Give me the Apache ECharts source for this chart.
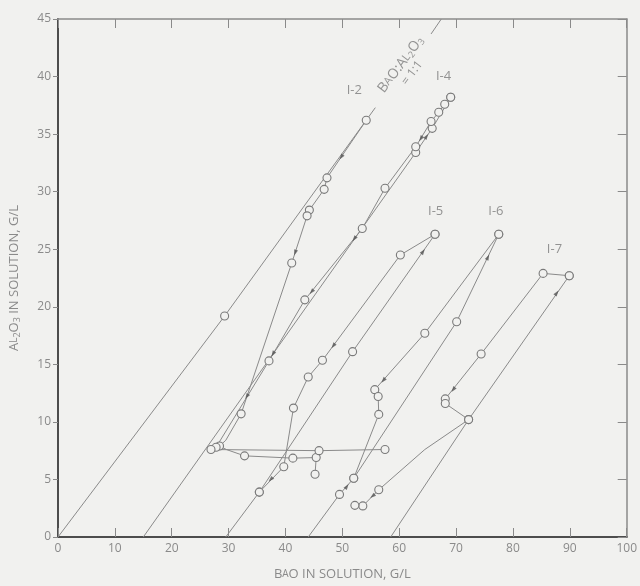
<!DOCTYPE html>
<html><head><meta charset="utf-8">
<script src="https://cdn.jsdelivr.net/npm/echarts@6/dist/echarts.min.js"></script>
<style>html,body{margin:0;padding:0;background:#f1f1ef}#c{width:640px;height:586px}</style>
</head><body><div id="c"></div><script>
// ---- data (x = BaO g/L, y = Al2O3 g/L, third value 1 = open circle drawn) ----
const xRange = [0, 100, 10];
const yRange = [0, 45, 5];

const ratioLineA = [[0,0,0],[29.3,19.2,1],[55.8,37.3,0]];
const ratioLineB = [[65.6,43.7,0],[67.4,45.0,0]];

const i2Path = [[54.2,36.2,1],[47.3,31.2,1],[46.8,30.2,1],[44.2,28.4,1],[43.8,27.9,1],[41.1,23.8,1],[32.2,10.7,1],[29.5,8.4,0],[28.4,7.9,1],[29.6,7.6,0],[32.8,7.05,1],[41.3,6.85,1],[45.4,6.9,1],[45.2,5.45,1]];

const i4Rise = [[15.0,0,0],[62.9,33.4,1],[65.8,35.5,1],[69.05,38.2,1]];
const i4Path = [[69.05,38.2,1],[68.0,37.6,1],[66.95,36.9,1],[65.6,36.1,1],[62.9,33.9,1],[57.5,30.3,1],[53.5,26.8,1],[43.4,20.6,1],[37.1,15.3,1],[27.8,7.8,1],[26.9,7.6,1],[45.9,7.5,1],[57.5,7.6,1]];

const i5Rise = [[29.5,0,0],[35.4,3.9,1],[51.8,16.1,1],[66.3,26.3,1]];
const i5Path = [[66.3,26.3,1],[60.2,24.5,1],[46.5,15.35,1],[44.0,13.9,1],[41.4,11.2,1],[39.7,6.1,1],[35.4,3.9,1]];

const i6Rise = [[44.0,0,0],[49.5,3.7,1],[52.0,5.1,1],[70.1,18.7,1],[77.5,26.3,1]];
const i6Path = [[77.5,26.3,1],[64.5,17.7,1],[55.7,12.8,1],[56.3,12.2,1],[56.4,10.65,1],[52.0,5.1,1]];

const i7Rise = [[58.5,0,0],[72.2,10.2,1],[89.9,22.7,1]];
const i7Path = [[89.9,22.7,1],[85.3,22.9,1],[74.4,15.9,1],[68.1,12.0,1],[68.1,11.6,1],[72.2,10.2,1],[64.5,7.6,0],[56.4,4.1,1],[53.6,2.7,1],[52.2,2.75,1]];

// arrows: x, y, direction dx, dy (data units)
const arrows = [
 [49.8,33.0,-1,-0.72],[41.7,24.7,-1,-1.5],
 [64.8,34.8,1,0.72],[63.8,34.6,-1,-0.8],[52.1,25.9,-1,-0.7],[44.6,21.3,-1,-0.6],[37.8,15.9,-1,-0.84],[33.2,12.2,-1,-0.8],
 [64.2,24.8,1,0.7],[48.4,16.6,-1,-0.67],[37.4,5.0,-1,-0.5],
 [50.8,4.4,1,0.7],[75.6,24.3,1,1],[57.2,13.6,-1,-0.6],
 [87.7,21.2,1,0.7],[69.5,12.8,-1,-0.7],[55.3,3.55,-1,-0.4]
];

const seriesLabels = [['I-2',52.1,38.8],['I-4',67.8,40.0],['I-5',66.4,28.3],['I-6',77.0,28.3],['I-7',87.3,25.0]];
const ratioLabelPos = [61.2,40.7];

// ---- styling ----
const bg = '#f1f1ef';
const ink = '#8a8a8a';
const font = 'Open Sans';
const pxX = 577/100, pxY = 518/45;
function rot(dx,dy){ return Math.atan2(-dx*pxX, dy*pxY)*180/Math.PI; }

function pathSeries(pts){
  return {type:'line', data:pts, symbol:(v)=> v[2] ? 'circle' : 'none', symbolSize:8, showSymbol:true,
    itemStyle:{color:bg, borderColor:'#7a7a7a', borderWidth:1.1},
    lineStyle:{color:ink, width:1}, silent:true, z:3, animation:false};
}

const series = [ratioLineA, ratioLineB, i2Path, i4Rise, i4Path, i5Rise, i5Path, i6Rise, i6Path, i7Rise, i7Path].map(pathSeries);
series.push({type:'scatter', z:5, silent:true, animation:false,
  data: arrows.map(a=>({value:[a[0],a[1]], symbolRotate: rot(a[2],a[3])})),
  symbol:'triangle', symbolSize:[4,6], itemStyle:{color:'#555'}});
series.push({type:'scatter', z:6, silent:true, animation:false, symbolSize:0,
  data: seriesLabels.map(l=>({name:l[0], value:[l[1],l[2]]})),
  label:{show:true, position:'inside', formatter:'{b}', color:'#7a7a7a', fontSize:13, fontFamily:font}});
series.push({type:'scatter', z:6, silent:true, animation:false, symbolSize:0,
  data:[{value:ratioLabelPos}],
  label:{show:true, position:'inside', rotate:53,
    formatter:'{n|B}{s|A}{n|O:A}{s|L}{b|2}{n|O}{b|3}\n{m|= 1:1}',
    rich:{n:{fontSize:14,color:'#7a7a7a',fontFamily:font,lineHeight:15},
          m:{fontSize:12,color:'#7a7a7a',fontFamily:font,lineHeight:13},
          s:{fontSize:11,color:'#7a7a7a',fontFamily:font,lineHeight:15},
          b:{fontSize:9,color:'#7a7a7a',fontFamily:font,lineHeight:15,verticalAlign:'bottom'}}}});

const nameRich = {n:{fontSize:13,color:ink,fontFamily:font}, s:{fontSize:10,color:ink,fontFamily:font}, b:{fontSize:9,color:ink,fontFamily:font,verticalAlign:'bottom',padding:[6,0,0,0]}};

const chart = echarts.init(document.getElementById('c'));
chart.setOption({
  backgroundColor: bg,
  animation:false,
  grid:{left:51, right:12, top:19, bottom:49, containLabel:false},
  xAxis:[
    {type:'value', min:xRange[0], max:xRange[1], interval:xRange[2], position:'bottom',
     axisLine:{show:true,onZero:false,lineStyle:{color:'#4d4d4d',width:2}},
     axisTick:{show:true,inside:true,length:9,lineStyle:{color:'#8a8a8a'}},
     axisLabel:{color:ink,fontSize:12,margin:6,fontFamily:font},
     splitLine:{show:false},
     name:'{n|B}{s|A}{n|O IN SOLUTION, G/L}', nameLocation:'middle', nameGap:31,
     nameTextStyle:{rich:nameRich}},
    {type:'value', min:xRange[0], max:xRange[1], interval:xRange[2], position:'top',
     axisLine:{show:true,onZero:false,lineStyle:{color:'#8a8a8a',width:1.5}},
     axisTick:{show:true,inside:true,length:9,lineStyle:{color:'#8a8a8a'}},
     axisLabel:{show:false}, splitLine:{show:false}}
  ],
  yAxis:[
    {type:'value', min:yRange[0], max:yRange[1], interval:yRange[2], position:'left',
     axisLine:{show:true,onZero:false,lineStyle:{color:'#4d4d4d',width:2}},
     axisTick:{show:true,inside:false,length:5,lineStyle:{color:'#8a8a8a'}},
     axisLabel:{color:ink,fontSize:12,margin:7,fontFamily:font},
     splitLine:{show:false},
     name:'{n|A}{s|L}{b|2}{n|O}{b|3}{n| IN SOLUTION, G/L}', nameLocation:'middle', nameGap:36, nameRotate:90,
     nameTextStyle:{rich:nameRich}},
    {type:'value', min:yRange[0], max:yRange[1], interval:yRange[2], position:'right',
     axisLine:{show:true,onZero:false,lineStyle:{color:'#8a8a8a',width:1.5}},
     axisTick:{show:true,inside:true,length:9,lineStyle:{color:'#8a8a8a'}},
     axisLabel:{show:false}, splitLine:{show:false}}
  ],
  series: series
});
</script></body></html>
